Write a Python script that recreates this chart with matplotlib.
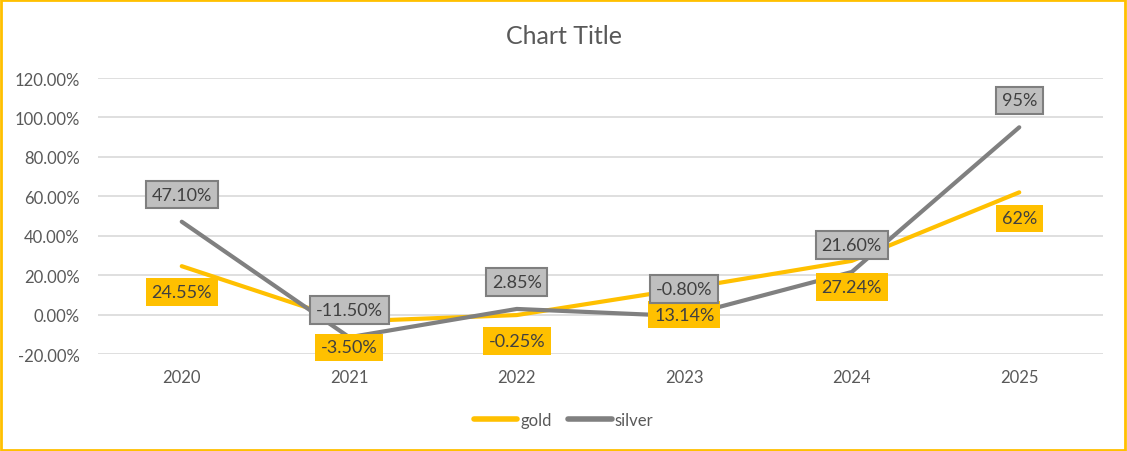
import matplotlib
matplotlib.use("Agg")
import matplotlib.pyplot as plt
from matplotlib.patches import Rectangle

years = ["2020", "2021", "2022", "2023", "2024", "2025"]
gold = [24.55, -3.50, -0.25, 13.14, 27.24, 62.0]
silver = [47.10, -11.50, 2.85, -0.80, 21.60, 95.0]
gold_labels = ["24.55%", "-3.50%", "-0.25%", "13.14%", "27.24%", "62%"]
silver_labels = ["47.10%", "-11.50%", "2.85%", "-0.80%", "21.60%", "95%"]
yticks = [-20, 0, 20, 40, 60, 80, 100, 120]

plt.rcParams['font.family'] = ['Lato', 'DejaVu Sans']

GOLD = "#FFC000"
GRAY = "#808080"
TXT = "#595959"

W, H = 1127, 452
fig = plt.figure(figsize=(W / 100, H / 100), dpi=100)
ax = fig.add_axes([98 / W, 1 - 355 / H, (1103 - 98) / W, (355 - 79) / H])

x = list(range(len(years)))
ax.plot(x, gold, color=GOLD, lw=3.0, solid_capstyle='round', label="gold", zorder=3)
ax.plot(x, silver, color=GRAY, lw=3.0, solid_capstyle='round', label="silver", zorder=3)

ax.set_xlim(-0.5, 5.5)
ax.set_ylim(-20, 120)
ax.set_yticks(yticks)
ax.set_yticklabels([f"{v:.2f}%" for v in yticks])
ax.set_xticks(x)
ax.set_xticklabels(years)
ax.grid(axis='y', color="#D9D9D9", lw=1.2)
ax.set_axisbelow(True)
for s in ax.spines.values():
    s.set_visible(False)
ax.tick_params(length=0, colors=TXT, labelsize=12)
ax.tick_params(axis='y', pad=13)
ax.tick_params(axis='x', pad=11)

for xi, v, t in zip(x, gold, gold_labels):
    ax.annotate(t, (xi, v), xytext=(0, -26), textcoords='offset pixels',
                ha='center', va='center', fontsize=13, color="#404040", zorder=5,
                bbox=dict(boxstyle='square,pad=0.32', fc=GOLD, ec='none'))
for xi, v, t in zip(x, silver, silver_labels):
    ax.annotate(t, (xi, v), xytext=(0, 27), textcoords='offset pixels',
                ha='center', va='center', fontsize=13, color="#404040", zorder=5,
                bbox=dict(boxstyle='square,pad=0.32', fc="#BFBFBF", ec="#7F7F7F", lw=1.5))

fig.text(0.5, 1 - 37 / H, "Chart Title", ha='center', va='center', fontsize=18, color=TXT)

leg = fig.legend(loc='center', bbox_to_anchor=(0.5, 1 - 421 / H), ncol=2, frameon=False,
                 fontsize=12, handlelength=2.6, handletextpad=0.2, columnspacing=1.0)
for t in leg.get_texts():
    t.set_color(TXT)
for h in leg.legend_handles:
    h.set_linewidth(4)
    h.set_solid_capstyle('round')

fig.patches.append(Rectangle((0.001, 0.002), 0.997, 0.995, transform=fig.transFigure,
                             fill=False, ec=GOLD, lw=2))

fig.savefig("out.png", dpi=100)
